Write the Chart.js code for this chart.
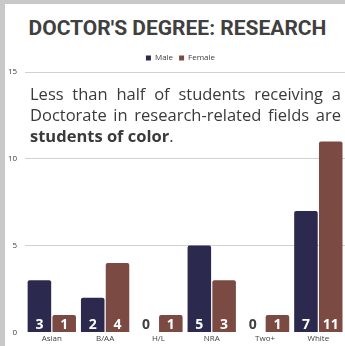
<!DOCTYPE html>
<html>
<head>
<meta charset="utf-8">
<script src="https://cdn.jsdelivr.net/npm/chart.js@4"></script>
<style>
  html, body { margin: 0; padding: 0; }
  body { width: 345px; height: 346px; background: #c8c8c8; position: relative; overflow: hidden; }
  #card { position: absolute; left: 5px; top: 4px; right: 0; bottom: 0; background: #fff; }
  #wrap { position: absolute; left: 0; top: 0; width: 345px; height: 346px; }
  #title {
    position: absolute; left: 10px; right: 0; top: 15px; text-align: center;
    font-family: Roboto, sans-serif; font-weight: bold; font-size: 21px; line-height: 26px;
    color: #404040;
  }
  #note {
    position: absolute; left: 30px; top: 83px; width: 311px;
    font-family: "Open Sans", sans-serif; font-size: 16.5px; line-height: 21px;
    color: #3a3a3a; text-align: justify; text-align-last: left;
  }
</style>
</head>
<body>
<div id="card"></div>
<div id="title">DOCTOR'S DEGREE: RESEARCH</div>
<div id="wrap"><canvas id="chart" width="345" height="346"></canvas></div>
<div id="note">Less than half of students receiving a Doctorate in research-related fields are <b>students of color</b>.</div>
<script>
// Dữ liệu biểu đồ
const categories = ["Asian", "B/AA", "H/L", "NRA", "Two+", "White"];
const maleValues = [3, 2, 0, 5, 0, 7];
const femaleValues = [1, 4, 1, 3, 1, 11];
const yTicks = [0, 5, 10, 15];

// Nhãn giá trị ở chân cột
const barValueLabels = {
  id: "barValueLabels",
  afterDatasetsDraw(chart) {
    const c = chart.ctx;
    c.save();
    c.font = "bold 14px 'Open Sans', sans-serif";
    c.textAlign = "center";
    c.textBaseline = "middle";
    chart.data.datasets.forEach((ds, i) => {
      chart.getDatasetMeta(i).data.forEach((bar, j) => {
        const v = ds.data[j];
        c.fillStyle = v === 0 ? "#404040" : "#ffffff";
        c.fillText(String(v), bar.x, bar.base - 7);
      });
    });
    c.restore();
  },
};

// Dịch chú thích sang phải một chút
const legendShift = {
  id: "legendShift",
  afterLayout(chart) {
    chart.legend.left += 8;
    chart.legend.right += 8;
  },
};

const ctx = document.getElementById("chart").getContext("2d");
const chart = new Chart(ctx, {
  type: "bar",
  data: {
    labels: categories,
    datasets: [
      {
        label: "Male",
        data: maleValues,
        backgroundColor: "#2b2a4e",
        borderRadius: { topLeft: 2, topRight: 2 },
        borderSkipped: "bottom",
      },
      {
        label: "Female",
        data: femaleValues,
        backgroundColor: "#7b4b43",
        borderRadius: { topLeft: 2, topRight: 2 },
        borderSkipped: "bottom",
      },
    ],
  },
  options: {
    responsive: false,
    animation: false,
    layout: { padding: { left: 0, right: 0, top: 48, bottom: 0 } },
    datasets: { bar: { categoryPercentage: 0.93, barPercentage: 0.95 } },
    plugins: {
      title: { display: false },
      legend: {
        display: true,
        labels: {
          boxWidth: 5,
          boxHeight: 5,
          color: "#404040",
          font: { family: "Open Sans", size: 8 },
          padding: 6,
        },
      },
      tooltip: { enabled: false },
    },
    scales: {
      x: {
        grid: { display: false, drawTicks: false },
        border: { display: false },
        ticks: { color: "#404040", font: { family: "Open Sans", size: 8 }, padding: 2 },
      },
      y: {
        min: 0,
        max: 15,
        afterBuildTicks: (axis) => { axis.ticks = yTicks.map((v) => ({ value: v })); },
        grid: { color: (g) => (g.tick.value === 0 ? "rgba(0,0,0,0)" : "#d0d0d0"), drawTicks: false },
        border: { display: false },
        ticks: { color: "#404040", font: { family: "Open Sans", size: 8 }, padding: 8 },
      },
    },
  },
  plugins: [barValueLabels, legendShift],
});
</script>
</body>
</html>
